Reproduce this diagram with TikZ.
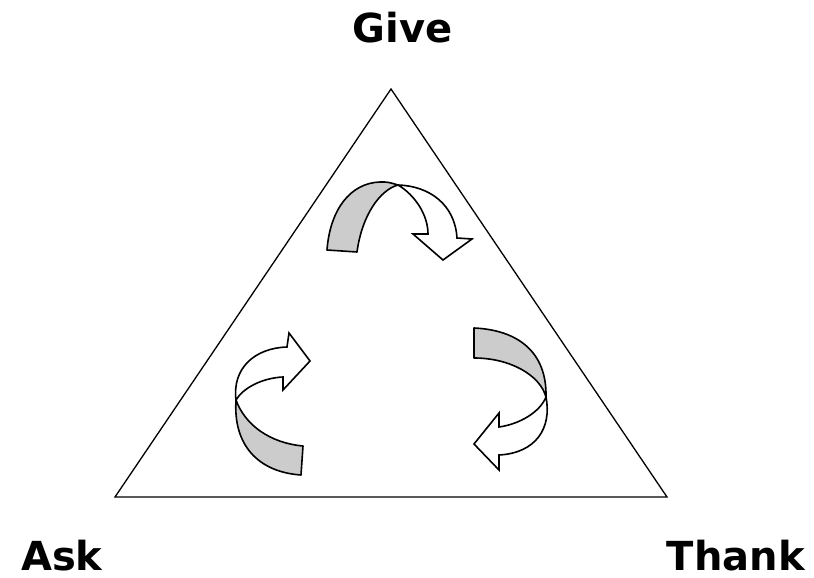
\documentclass[tikz,border=0pt]{standalone}
\usepackage{fontspec}
\setmainfont{DejaVu Sans}
\usepackage{tikz}
\definecolor{ink}{HTML}{000000}
\definecolor{ribbon}{HTML}{CCCCCC}

\tikzset{
  corner/.style={font=\fontsize{40}{44}\selectfont\bfseries,text=ink,inner sep=0pt},
  backside/.style={draw=ink,fill=ribbon,line width=1.6pt,line join=round},
  frontside/.style={draw=ink,fill=white,line width=1.6pt,line join=miter},
}

\begin{document}
\begin{tikzpicture}[x=1pt,y=-1pt]
    \useasboundingbox (0,0) rectangle (814,578);
    % the three corners of the cycle
    \coordinate (apex) at (391,89);
    \coordinate (left) at (115,497);
    \coordinate (right) at (667,497);
    \draw[ink,line width=1.3pt,line join=miter] (apex) -- (right) -- (left) -- cycle;

    \node[corner,anchor=base] (give) at (402.5,43) {Give};
    \node[corner,anchor=base west] (ask) at (21,570) {Ask};
    \node[corner,anchor=base east] (thank) at (805,570) {Thank};

    % top ribbon, turning over to the right
    \filldraw[backside] (327,250) .. controls (330,210) and (350,183) .. (380,182)
      .. controls (388,182) .. (398,185)
      .. controls (380,190) and (362,215) .. (357,252) -- cycle;
    \filldraw[frontside] (398,185) .. controls (430,186) and (455,205) .. (457,238)
      -- (472,239) -- (443,260) -- (413,234) -- (428,234)
      .. controls (428,215) and (415,195) .. (398,185) -- cycle;

    % right ribbon, turning down and back
    \filldraw[backside] (474,328) .. controls (518,330) and (547,352) .. (546,397)
      .. controls (540,375) and (510,358) .. (474,358) -- cycle;
    \filldraw[frontside] (546,397) .. controls (552,428) and (536,453) .. (499,455)
      -- (499,470) -- (474,444) -- (499,413) -- (499,427)
      .. controls (520,424) and (540,412) .. (546,397) -- cycle;

    % left ribbon, turning up and over
    \filldraw[backside] (301,475) .. controls (258,472) and (233,445) .. (236,400)
      .. controls (245,425) and (270,443) .. (303,446) -- cycle;
    \filldraw[frontside] (236,400) .. controls (232,368) and (255,348) .. (287,347)
      -- (289,333) -- (310,361) -- (283,390) -- (283,377)
      .. controls (262,378) and (243,388) .. (236,400) -- cycle;
\end{tikzpicture}
\end{document}
